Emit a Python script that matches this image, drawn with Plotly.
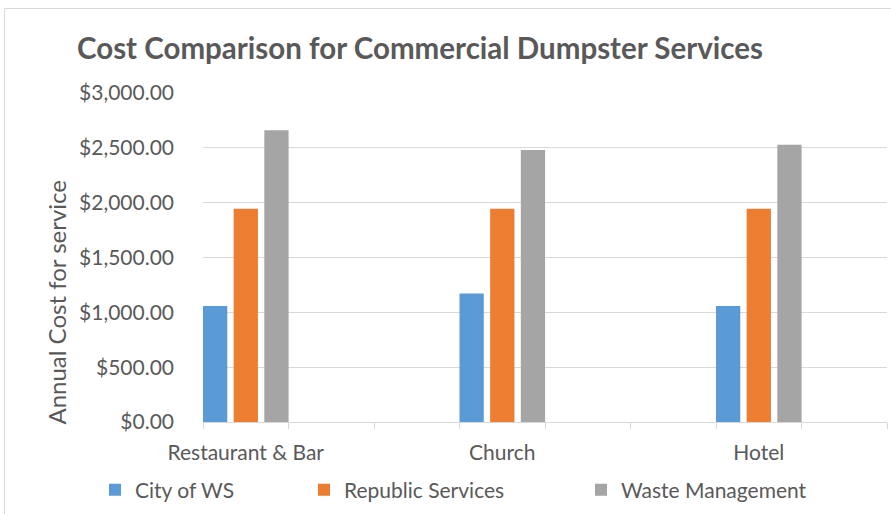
import plotly.graph_objects as go

# ---- data ----
categories = ["Restaurant & Bar", "Church", "Hotel"]
series_names = ["City of WS", "Republic Services", "Waste Management"]
city_ws = [1058, 1171, 1058]
republic_services = [1944, 1944, 1944]
waste_management = [2661, 2480, 2528]
y_tick_vals = [0, 500, 1000, 1500, 2000, 2500, 3000]

series_values = [city_ws, republic_services, waste_management]
colors = ["#5B9BD5", "#ED7D31", "#A5A5A5"]

# axis slots: each category followed by blank spacer slots (8 slots visible)
slots = []
for i, c in enumerate(categories):
    slots.append(c)
    slots.append(" " * (2 * i + 1))
    slots.append(" " * (2 * i + 2))
slots = slots[:8]

W, H = 891, 514
L, R, T, B = 203, 4, 93, 92
PW = W - L - R
PH = H - T - B
FONT = "Lato"
GREY_TXT = "#595959"
GRID = "#D9D9D9"


def px_x(px):
    return (px - L) / PW


def px_y(py):
    return (H - B - py) / PH


fig = go.Figure()
legend_ids = ["legend", "legend2", "legend3"]
bar_w = 0.284
bar_step = 0.3586
for i, (name, vals) in enumerate(zip(series_names, series_values)):
    fig.add_trace(go.Bar(
        x=categories, y=vals, name=name,
        marker=dict(color=colors[i], line=dict(width=0)),
        width=bar_w, offset=-0.5 + i * bar_step,
        legend=legend_ids[i],
    ))

legend_x_px = [95, 304, 581]
legend_common = dict(orientation="h", xref="paper", yref="paper", yanchor="middle",
                     xanchor="left", font=dict(family=FONT, size=21, color=GREY_TXT),
                     bgcolor="rgba(0,0,0,0)", itemwidth=30)

fig.update_layout(
    width=W, height=H,
    margin=dict(l=L, r=R, t=T, b=B, pad=0, autoexpand=False),
    paper_bgcolor="white", plot_bgcolor="white",
    barmode="group",
    title=dict(text="<b>Cost Comparison for Commercial Dumpster Services</b>",
               x=77 / W, xref="container", xanchor="left",
               y=1 - 49 / H, yref="container", yanchor="middle",
               font=dict(family=FONT, size=29.5, color=GREY_TXT)),
    xaxis=dict(type="category", categoryorder="array", categoryarray=slots,
               range=[-0.5, len(slots) - 0.5], automargin=False, tickangle=0,
               tickson="boundaries", ticks="outside", ticklen=6, tickcolor=GRID, tickwidth=1,
               ticklabelstandoff=12,
               showline=True, linecolor=GRID, linewidth=1, showgrid=False,
               tickfont=dict(family=FONT, size=21, color=GREY_TXT)),
    yaxis=dict(range=[0, 3000], tickvals=y_tick_vals, tickformat="$,.2f", automargin=False,
               showgrid=True, gridcolor=GRID, gridwidth=1.3, zeroline=False,
               showline=False, ticks="", ticklabelstandoff=28,
               tickfont=dict(family=FONT, size=21, color=GREY_TXT)),
    legend=dict(x=px_x(legend_x_px[0]), y=px_y(490), **legend_common),
    legend2=dict(x=px_x(legend_x_px[1]), y=px_y(490), **legend_common),
    legend3=dict(x=px_x(legend_x_px[2]), y=px_y(490), **legend_common),
    showlegend=True,
)

fig.add_annotation(text="Annual Cost for service", textangle=-90,
                   xref="paper", yref="paper", x=px_x(56), y=px_y(302.5),
                   xanchor="center", yanchor="middle", showarrow=False,
                   font=dict(family=FONT, size=24, color=GREY_TXT))

fig.add_shape(type="rect", xref="paper", yref="paper",
              x0=px_x(4.5), x1=px_x(W + 20), y0=px_y(H + 20), y1=px_y(8.5),
              line=dict(color=GRID, width=1), fillcolor="rgba(0,0,0,0)", layer="below")

fig.write_html("out.html", config={"displayModeBar": False},
               post_script="document.body.style.margin='0px';document.body.style.padding='0px';")
